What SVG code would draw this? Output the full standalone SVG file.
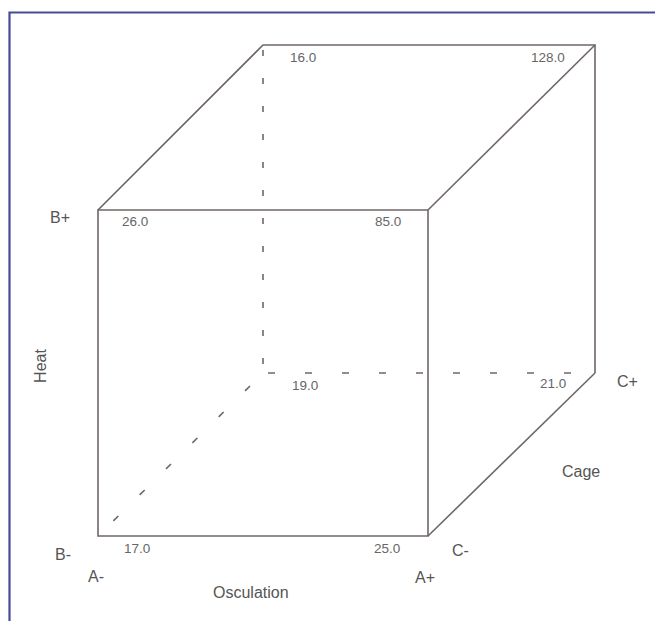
<svg xmlns="http://www.w3.org/2000/svg" width="655" height="621" viewBox="0 0 655 621">
<style>
.edge{stroke:#6f6767;stroke-width:1.6;fill:none}
.dash{stroke:#6f6767;stroke-width:1.6;fill:none;stroke-dasharray:6 22}
.dashw{stroke:#6f6767;stroke-width:1.6;fill:none;stroke-dasharray:7 30}
.num{font-family:"Liberation Sans",Arial,sans-serif;font-size:13.5px;fill:#666}
.lab{font-family:"Liberation Sans",Arial,sans-serif;font-size:16px;fill:#555}
</style>
<rect width="655" height="621" fill="#fff"/>
<path d="M9.5 621 V12.5 H655" stroke="#474b96" stroke-width="2.2" fill="none"/>
<g id="connectors">
<path class="edge" d="M98 210 H428 V536 H98 Z"/>
<path class="edge" d="M98 210 L263 45 H595 V373"/>
<path class="edge" d="M428 210 L595 45"/>
<path class="edge" d="M428 536 L595 373"/>
<path class="dash" d="M263 50 V373"/>
<path class="dashw" d="M268 373 H595"/>
<path class="dashw" d="M250 386 L98 536"/>
</g>
<g id="n16"><text class="num" x="290" y="62">16.0</text></g>
<g id="n128"><text class="num" x="531" y="62">128.0</text></g>
<g id="n26"><text class="num" x="122" y="226">26.0</text></g>
<g id="n85"><text class="num" x="375" y="226">85.0</text></g>
<g id="n19"><text class="num" x="292" y="390">19.0</text></g>
<g id="n21"><text class="num" x="540" y="388">21.0</text></g>
<g id="n17"><text class="num" x="124" y="553">17.0</text></g>
<g id="n25"><text class="num" x="374" y="553">25.0</text></g>
<g id="labels">
<text class="lab" x="50" y="223">B+</text>
<text class="lab" x="55" y="560">B-</text>
<text class="lab" x="88" y="582">A-</text>
<text class="lab" x="415" y="583">A+</text>
<text class="lab" x="452" y="556">C-</text>
<text class="lab" x="617" y="387">C+</text>
<text class="lab" x="562" y="477">Cage</text>
<text class="lab" x="213" y="598">Osculation</text>
<text class="lab" transform="translate(46 366) rotate(-90)" text-anchor="middle">Heat</text>
</g>
</svg>
